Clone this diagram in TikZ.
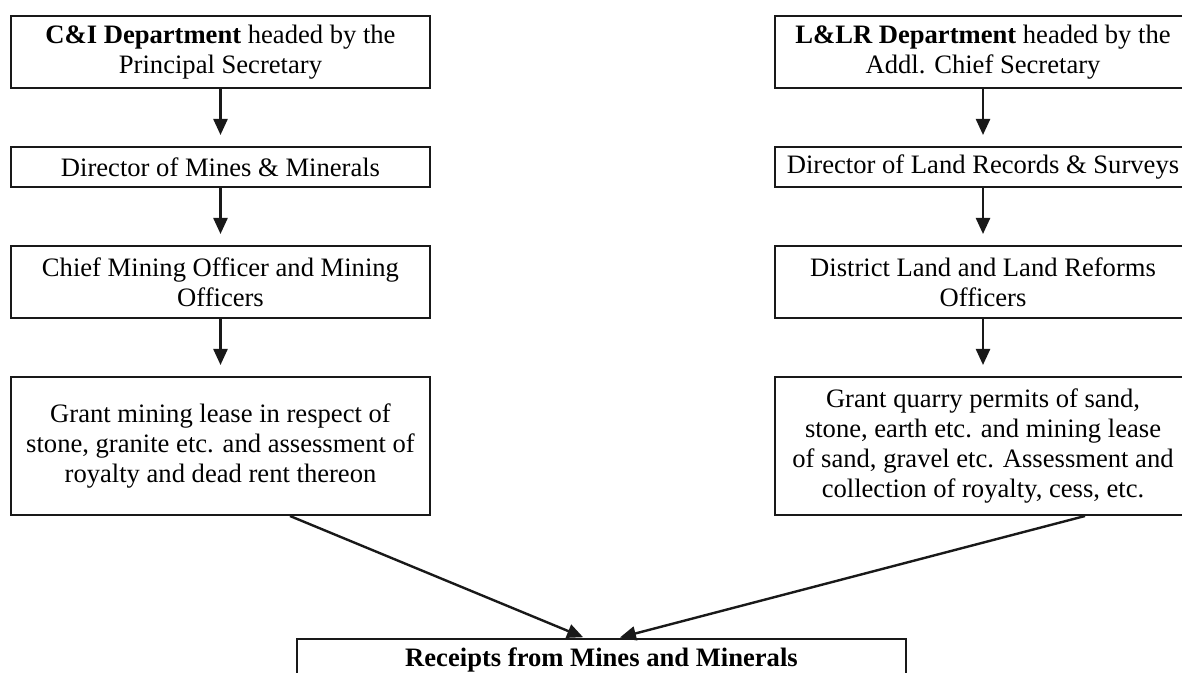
\documentclass[tikz,border=0pt]{standalone}
\usepackage{fontspec}
\setmainfont{Liberation Serif}
\usetikzlibrary{arrows.meta}
\begin{document}
\begin{tikzpicture}[x=0.5pt,y=-0.5pt,
  box/.style={draw=black!90, line width=1pt, align=center, inner sep=0pt,
    font=\fontsize{13.3}{15}\selectfont},
  lbox/.style={box, minimum width=209.5pt},
  rbox/.style={box, minimum width=208pt},
  arr/.style={-{Triangle[length=8pt,width=7pt]}, line width=1.2pt, draw=black!90, fill=black!90}]
\useasboundingbox (0,0) rectangle (1182,673);
\begin{scope}
\clip (0,0) rectangle (1182,673);
% left column
\node[lbox, minimum height=36pt] (l1) at (220.5,52) {\textbf{C\&I Department} headed by the\\Principal Secretary};
\node[lbox, minimum height=20pt] (l2) at (220.5,167) {Director of Mines \& Minerals};
\node[lbox, minimum height=36pt] (l3) at (220.5,282) {Chief Mining Officer and Mining\\Officers};
\node[lbox, minimum height=69pt] (l4) at (220.5,446) {Grant mining lease in respect of\\stone, granite etc. and assessment of\\royalty and dead rent thereon};
% right column
\node[rbox, minimum height=36pt] (r1) at (983,52) {\textbf{L\&LR Department} headed by the\\Addl. Chief Secretary};
\node[rbox, minimum height=20pt] (r2) at (983,167) {Director of Land Records \& Surveys};
\node[rbox, minimum height=36pt] (r3) at (983,282) {District Land and Land Reforms\\Officers};
\node[rbox, minimum height=69pt] (r4) at (983,446) {Grant quarry permits of sand,\\stone, earth etc. and mining lease\\of sand, gravel etc. Assessment and\\collection of royalty, cess, etc.};
% bottom
\node[box, anchor=north, minimum width=304.5pt, inner ysep=4.5pt, text depth=25pt] (bot) at (601.5,638) {\textbf{Receipts from Mines and Minerals}};
% arrows
\foreach \a/\b in {l1/l2,l2/l3,l3/l4,r1/r2,r2/r3,r3/r4}
  \draw[arr, shorten >=5.5pt] (\a.south) -- (\b.north);
\draw[arr, shorten >=1pt] ([xshift=34.75pt]l4.south) -- ([xshift=-8.25pt]bot.north);
\draw[arr, shorten >=1pt] ([xshift=51pt]r4.south) -- ([xshift=8.25pt]bot.north);
\end{scope}
\end{tikzpicture}
\end{document}
